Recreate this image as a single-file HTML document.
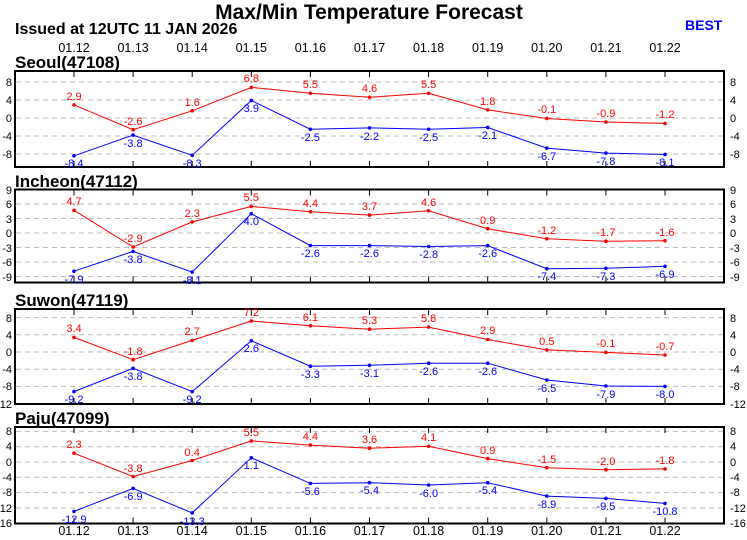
<!DOCTYPE html>
<html><head><meta charset="utf-8"><style>
body{margin:0;background:#fff;}
svg{display:block;font-family:"Liberation Sans",Arial,sans-serif;}
.g{stroke:#bbb;stroke-dasharray:5,4;stroke-width:1}
.bx{fill:none;stroke:#000;stroke-width:2}
.l{font-size:11px;text-anchor:end}
.r{font-size:11px;text-anchor:start}
.d{font-size:12.5px;text-anchor:middle}
.st{font-size:17px;font-weight:bold}
.rt{fill:#f00;font-size:11px;text-anchor:middle}
.bt{fill:#00f;font-size:11px;text-anchor:middle}
</style></head><body>
<svg width="747" height="540" viewBox="0 0 747 540">
<text x="369" y="19" font-size="21" font-weight="bold" text-anchor="middle">Max/Min Temperature Forecast</text>
<text x="15" y="34" font-size="16" font-weight="bold">Issued at 12UTC 11 JAN 2026</text>
<text x="685" y="30" font-size="14" font-weight="bold" fill="#00f">BEST</text>
<g class="d">
<text x="74" y="52">01.12</text><text x="133.1" y="52">01.13</text><text x="192.2" y="52">01.14</text><text x="251.3" y="52">01.15</text><text x="310.4" y="52">01.16</text><text x="369.5" y="52">01.17</text><text x="428.6" y="52">01.18</text><text x="487.7" y="52">01.19</text><text x="546.8" y="52">01.20</text><text x="605.9" y="52">01.21</text><text x="665" y="52">01.22</text>
<text x="74" y="535">01.12</text><text x="133.1" y="535">01.13</text><text x="192.2" y="535">01.14</text><text x="251.3" y="535">01.15</text><text x="310.4" y="535">01.16</text><text x="369.5" y="535">01.17</text><text x="428.6" y="535">01.18</text><text x="487.7" y="535">01.19</text><text x="546.8" y="535">01.20</text><text x="605.9" y="535">01.21</text><text x="665" y="535">01.22</text>
</g>
<defs>
<g id="tk" stroke="#000" stroke-width="1">
<path d="M74 0v6M133.1 0v6M192.2 0v6M251.3 0v6M310.4 0v6M369.5 0v6M428.6 0v6M487.7 0v6M546.8 0v6M605.9 0v6M665 0v6"/>
</g>
<g id="tkb" stroke="#000" stroke-width="1">
<path d="M74 0v-6M133.1 0v-6M192.2 0v-6M251.3 0v-6M310.4 0v-6M369.5 0v-6M428.6 0v-6M487.7 0v-6M546.8 0v-6M605.9 0v-6M665 0v-6"/>
</g>
</defs>

<!-- Seoul -->
<text x="15" y="68" class="st">Seoul(47108)</text>
<g class="g"><path d="M16 82H723M16 100H723M16 118H723M16 136H723M16 154H723"/></g>
<rect class="bx" x="15" y="71" width="709" height="96"/>
<use href="#tk" y="71"/><use href="#tkb" y="167"/>
<g class="l"><text x="12" y="86">8</text><text x="12" y="104">4</text><text x="12" y="122">0</text><text x="12" y="140">-4</text><text x="12" y="158">-8</text></g>
<g class="r"><text x="730" y="86">8</text><text x="730" y="104">4</text><text x="730" y="122">0</text><text x="730" y="140">-4</text><text x="730" y="158">-8</text></g>
<polyline fill="none" stroke="#f00" points="74,104.95 133.1,129.7 192.2,110.8 251.3,87.4 310.4,93.25 369.5,97.3 428.6,93.25 487.7,109.9 546.8,118.45 605.9,122.05 665,123.4"/>
<polyline fill="none" stroke="#00f" points="74,155.8 133.1,135.1 192.2,155.35 251.3,100.45 310.4,129.25 369.5,127.9 428.6,129.25 487.7,127.45 546.8,148.15 605.9,153.1 665,154.45"/>
<g fill="#f00"><circle cx="74" cy="104.95" r="1.8"/><circle cx="133.1" cy="129.7" r="1.8"/><circle cx="192.2" cy="110.8" r="1.8"/><circle cx="251.3" cy="87.4" r="1.8"/><circle cx="310.4" cy="93.25" r="1.8"/><circle cx="369.5" cy="97.3" r="1.8"/><circle cx="428.6" cy="93.25" r="1.8"/><circle cx="487.7" cy="109.9" r="1.8"/><circle cx="546.8" cy="118.45" r="1.8"/><circle cx="605.9" cy="122.05" r="1.8"/><circle cx="665" cy="123.4" r="1.8"/></g>
<g fill="#00f"><circle cx="74" cy="155.8" r="1.8"/><circle cx="133.1" cy="135.1" r="1.8"/><circle cx="192.2" cy="155.35" r="1.8"/><circle cx="251.3" cy="100.45" r="1.8"/><circle cx="310.4" cy="129.25" r="1.8"/><circle cx="369.5" cy="127.9" r="1.8"/><circle cx="428.6" cy="129.25" r="1.8"/><circle cx="487.7" cy="127.45" r="1.8"/><circle cx="546.8" cy="148.15" r="1.8"/><circle cx="605.9" cy="153.1" r="1.8"/><circle cx="665" cy="154.45" r="1.8"/></g>
<g class="rt"><text x="74" y="100">2.9</text><text x="133.1" y="125">-2.6</text><text x="192.2" y="106">1.6</text><text x="251.3" y="82">6.8</text><text x="310.4" y="88">5.5</text><text x="369.5" y="92">4.6</text><text x="428.6" y="88">5.5</text><text x="487.7" y="105">1.8</text><text x="546.8" y="113">-0.1</text><text x="605.9" y="117">-0.9</text><text x="665" y="118">-1.2</text></g>
<g class="bt"><text x="74" y="167">-8.4</text><text x="133.1" y="147">-3.8</text><text x="192.2" y="167">-8.3</text><text x="251.3" y="112">3.9</text><text x="310.4" y="141">-2.5</text><text x="369.5" y="140">-2.2</text><text x="428.6" y="141">-2.5</text><text x="487.7" y="139">-2.1</text><text x="546.8" y="160">-6.7</text><text x="605.9" y="165">-7.8</text><text x="665" y="166">-8.1</text></g>

<!-- Incheon -->
<text x="15" y="187" class="st">Incheon(47112)</text>
<g class="g"><path d="M16 204H723M16 218.5H723M16 233H723M16 247.5H723M16 262H723M16 276.5H723"/></g>
<rect class="bx" x="15" y="189.5" width="709" height="93"/>
<use href="#tk" y="189.5"/><use href="#tkb" y="282.5"/>
<g class="l"><text x="12" y="194">9</text><text x="12" y="208">6</text><text x="12" y="223">3</text><text x="12" y="237">0</text><text x="12" y="252">-3</text><text x="12" y="266">-6</text><text x="12" y="281">-9</text></g>
<g class="r"><text x="730" y="194">9</text><text x="730" y="208">6</text><text x="730" y="223">3</text><text x="730" y="237">0</text><text x="730" y="252">-3</text><text x="730" y="266">-6</text><text x="730" y="281">-9</text></g>
<polyline fill="none" stroke="#f00" points="74,210.3 133.1,247 192.2,221.9 251.3,206.4 310.4,211.7 369.5,215.1 428.6,210.8 487.7,228.7 546.8,238.8 605.9,241.2 665,240.7"/>
<polyline fill="none" stroke="#00f" points="74,271.2 133.1,251.4 192.2,272.1 251.3,213.7 310.4,245.6 369.5,245.6 428.6,246.5 487.7,245.6 546.8,268.7 605.9,268.3 665,266.3"/>
<g fill="#f00"><circle cx="74" cy="210.3" r="1.8"/><circle cx="133.1" cy="247" r="1.8"/><circle cx="192.2" cy="221.9" r="1.8"/><circle cx="251.3" cy="206.4" r="1.8"/><circle cx="310.4" cy="211.7" r="1.8"/><circle cx="369.5" cy="215.1" r="1.8"/><circle cx="428.6" cy="210.8" r="1.8"/><circle cx="487.7" cy="228.7" r="1.8"/><circle cx="546.8" cy="238.8" r="1.8"/><circle cx="605.9" cy="241.2" r="1.8"/><circle cx="665" cy="240.7" r="1.8"/></g>
<g fill="#00f"><circle cx="74" cy="271.2" r="1.8"/><circle cx="133.1" cy="251.4" r="1.8"/><circle cx="192.2" cy="272.1" r="1.8"/><circle cx="251.3" cy="213.7" r="1.8"/><circle cx="310.4" cy="245.6" r="1.8"/><circle cx="369.5" cy="245.6" r="1.8"/><circle cx="428.6" cy="246.5" r="1.8"/><circle cx="487.7" cy="245.6" r="1.8"/><circle cx="546.8" cy="268.7" r="1.8"/><circle cx="605.9" cy="268.3" r="1.8"/><circle cx="665" cy="266.3" r="1.8"/></g>
<g class="rt"><text x="74" y="205">4.7</text><text x="133.1" y="242">-2.9</text><text x="192.2" y="217">2.3</text><text x="251.3" y="201">5.5</text><text x="310.4" y="207">4.4</text><text x="369.5" y="210">3.7</text><text x="428.6" y="206">4.6</text><text x="487.7" y="224">0.9</text><text x="546.8" y="234">-1.2</text><text x="605.9" y="236">-1.7</text><text x="665" y="236">-1.6</text></g>
<g class="bt"><text x="74" y="283">-7.9</text><text x="133.1" y="263">-3.8</text><text x="192.2" y="284">-8.1</text><text x="251.3" y="225">4.0</text><text x="310.4" y="257">-2.6</text><text x="369.5" y="257">-2.6</text><text x="428.6" y="258">-2.8</text><text x="487.7" y="257">-2.6</text><text x="546.8" y="280">-7.4</text><text x="605.9" y="280">-7.3</text><text x="665" y="278">-6.9</text></g>

<!-- Suwon -->
<text x="15" y="306" class="st">Suwon(47119)</text>
<g class="g"><path d="M16 317.6H723M16 334.8H723M16 352H723M16 369.2H723M16 386.4H723"/></g>
<rect class="bx" x="15" y="309" width="709" height="95"/>
<use href="#tk" y="309"/><use href="#tkb" y="404"/>
<g class="l"><text x="12" y="322">8</text><text x="12" y="339">4</text><text x="12" y="356">0</text><text x="12" y="373">-4</text><text x="12" y="390">-8</text><text x="12" y="408">-12</text></g>
<g class="r"><text x="730" y="322">8</text><text x="730" y="339">4</text><text x="730" y="356">0</text><text x="730" y="373">-4</text><text x="730" y="390">-8</text><text x="730" y="408">-12</text></g>
<polyline fill="none" stroke="#f00" points="74,337.4 133.1,359.7 192.2,340.4 251.3,321 310.4,325.8 369.5,329.2 428.6,327.1 487.7,339.5 546.8,349.9 605.9,352.4 665,355"/>
<polyline fill="none" stroke="#00f" points="74,391.6 133.1,368.3 192.2,391.6 251.3,340.8 310.4,366.2 369.5,365.3 428.6,363.2 487.7,363.2 546.8,380 605.9,386 665,386.4"/>
<g fill="#f00"><circle cx="74" cy="337.4" r="1.8"/><circle cx="133.1" cy="359.7" r="1.8"/><circle cx="192.2" cy="340.4" r="1.8"/><circle cx="251.3" cy="321" r="1.8"/><circle cx="310.4" cy="325.8" r="1.8"/><circle cx="369.5" cy="329.2" r="1.8"/><circle cx="428.6" cy="327.1" r="1.8"/><circle cx="487.7" cy="339.5" r="1.8"/><circle cx="546.8" cy="349.9" r="1.8"/><circle cx="605.9" cy="352.4" r="1.8"/><circle cx="665" cy="355" r="1.8"/></g>
<g fill="#00f"><circle cx="74" cy="391.6" r="1.8"/><circle cx="133.1" cy="368.3" r="1.8"/><circle cx="192.2" cy="391.6" r="1.8"/><circle cx="251.3" cy="340.8" r="1.8"/><circle cx="310.4" cy="366.2" r="1.8"/><circle cx="369.5" cy="365.3" r="1.8"/><circle cx="428.6" cy="363.2" r="1.8"/><circle cx="487.7" cy="363.2" r="1.8"/><circle cx="546.8" cy="380" r="1.8"/><circle cx="605.9" cy="386" r="1.8"/><circle cx="665" cy="386.4" r="1.8"/></g>
<g class="rt"><text x="74" y="332">3.4</text><text x="133.1" y="355">-1.8</text><text x="192.2" y="335">2.7</text><text x="251.3" y="316">7.2</text><text x="310.4" y="321">6.1</text><text x="369.5" y="324">5.3</text><text x="428.6" y="322">5.8</text><text x="487.7" y="334">2.9</text><text x="546.8" y="345">0.5</text><text x="605.9" y="347">-0.1</text><text x="665" y="350">-0.7</text></g>
<g class="bt"><text x="74" y="403">-9.2</text><text x="133.1" y="380">-3.8</text><text x="192.2" y="403">-9.2</text><text x="251.3" y="352">2.6</text><text x="310.4" y="378">-3.3</text><text x="369.5" y="377">-3.1</text><text x="428.6" y="375">-2.6</text><text x="487.7" y="375">-2.6</text><text x="546.8" y="392">-6.5</text><text x="605.9" y="398">-7.9</text><text x="665" y="398">-8.0</text></g>

<!-- Paju -->
<text x="15" y="424" class="st">Paju(47099)</text>
<g class="g"><path d="M16 431.4H723M16 446.7H723M16 462H723M16 477.3H723M16 492.6H723M16 508H723"/></g>
<rect class="bx" x="15" y="427" width="709" height="96.5"/>
<use href="#tk" y="427"/><use href="#tkb" y="523.5"/>
<g class="l"><text x="12" y="435">8</text><text x="12" y="450">4</text><text x="12" y="466">0</text><text x="12" y="481">-4</text><text x="12" y="496">-8</text><text x="12" y="512">-12</text><text x="12" y="527">-16</text></g>
<g class="r"><text x="730" y="435">8</text><text x="730" y="450">4</text><text x="730" y="466">0</text><text x="730" y="481">-4</text><text x="730" y="496">-8</text><text x="730" y="512">-12</text><text x="730" y="527">-16</text></g>
<polyline fill="none" stroke="#f00" points="74,453.2 133.1,476.6 192.2,460.5 251.3,440.9 310.4,445.1 369.5,448.2 428.6,446.3 487.7,458.6 546.8,467.7 605.9,469.7 665,468.9"/>
<polyline fill="none" stroke="#00f" points="74,511.4 133.1,488.4 192.2,512.9 251.3,457.8 310.4,483.4 369.5,482.7 428.6,485 487.7,482.7 546.8,496.1 605.9,498.4 665,503.4"/>
<g fill="#f00"><circle cx="74" cy="453.2" r="1.8"/><circle cx="133.1" cy="476.6" r="1.8"/><circle cx="192.2" cy="460.5" r="1.8"/><circle cx="251.3" cy="440.9" r="1.8"/><circle cx="310.4" cy="445.1" r="1.8"/><circle cx="369.5" cy="448.2" r="1.8"/><circle cx="428.6" cy="446.3" r="1.8"/><circle cx="487.7" cy="458.6" r="1.8"/><circle cx="546.8" cy="467.7" r="1.8"/><circle cx="605.9" cy="469.7" r="1.8"/><circle cx="665" cy="468.9" r="1.8"/></g>
<g fill="#00f"><circle cx="74" cy="511.4" r="1.8"/><circle cx="133.1" cy="488.4" r="1.8"/><circle cx="192.2" cy="512.9" r="1.8"/><circle cx="251.3" cy="457.8" r="1.8"/><circle cx="310.4" cy="483.4" r="1.8"/><circle cx="369.5" cy="482.7" r="1.8"/><circle cx="428.6" cy="485" r="1.8"/><circle cx="487.7" cy="482.7" r="1.8"/><circle cx="546.8" cy="496.1" r="1.8"/><circle cx="605.9" cy="498.4" r="1.8"/><circle cx="665" cy="503.4" r="1.8"/></g>
<g class="rt"><text x="74" y="448">2.3</text><text x="133.1" y="472">-3.8</text><text x="192.2" y="456">0.4</text><text x="251.3" y="436">5.5</text><text x="310.4" y="440">4.4</text><text x="369.5" y="443">3.6</text><text x="428.6" y="441">4.1</text><text x="487.7" y="454">0.9</text><text x="546.8" y="463">-1.5</text><text x="605.9" y="465">-2.0</text><text x="665" y="464">-1.8</text></g>
<g class="bt"><text x="74" y="523">-12.9</text><text x="133.1" y="500">-6.9</text><text x="192.2" y="525">-13.3</text><text x="251.3" y="469">1.1</text><text x="310.4" y="495">-5.6</text><text x="369.5" y="494">-5.4</text><text x="428.6" y="497">-6.0</text><text x="487.7" y="494">-5.4</text><text x="546.8" y="508">-8.9</text><text x="605.9" y="510">-9.5</text><text x="665" y="515">-10.8</text></g>
</svg>
</body></html>
